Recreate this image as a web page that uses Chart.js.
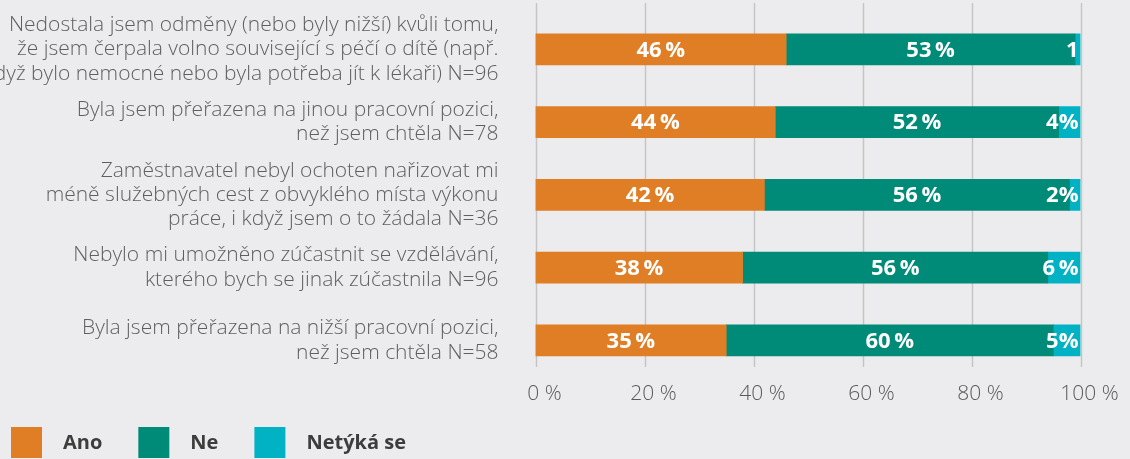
<!DOCTYPE html>
<html lang="cs">
<head>
<meta charset="utf-8">
<title>Znevýhodnění v zaměstnání</title>
<script src="https://cdn.jsdelivr.net/npm/chart.js@4.4.1/dist/chart.umd.min.js"></script>
<style>
  html, body { margin: 0; padding: 0; background: #ececee; }
  #wrap { width: 1130px; height: 459px; }
  canvas { display: block; }
</style>
</head>
<body>
<div id="wrap"><canvas id="chart" width="1130" height="459"></canvas></div>
<script>
// Otázky (každá na více řádků) a podíly odpovědí v %
const categories = [
  ["Nedostala jsem odměny (nebo byly nižší) kvůli tomu,",
   "že jsem čerpala volno související s péčí o dítě (např.",
   "když bylo nemocné nebo byla potřeba jít k lékaři) N=96"],
  ["Byla jsem přeřazena na jinou pracovní pozici,",
   "než jsem chtěla N=78"],
  ["Zaměstnavatel nebyl ochoten nařizovat mi",
   "méně služebných cest z obvyklého místa výkonu",
   "práce, i když jsem o to žádala N=36"],
  ["Nebylo mi umožněno zúčastnit se vzdělávání,",
   "kterého bych se jinak zúčastnila N=96"],
  ["Byla jsem přeřazena na nižší pracovní pozici,",
   "než jsem chtěla N=58"]
];
const seriesNames = ["Ano", "Ne", "Netýká se"];
const ano    = [46, 44, 42, 38, 35];
const ne     = [53, 52, 56, 56, 60];
const netyka = [1, 4, 2, 6, 5];
const xTickValues = [0, 20, 40, 60, 80, 100];

const COLORS = ["#e07e26", "#008a78", "#00b2c4"];
const FONT = "'Open Sans', 'Noto Sans', sans-serif";

// Svislé mřížky přes celou výšku grafu
const gridPlugin = {
  id: 'gridLines',
  beforeDatasetsDraw(chart) {
    const { ctx } = chart;
    const xs = chart.scales.x;
    ctx.save();
    ctx.strokeStyle = '#c5c5c8';
    ctx.lineWidth = 1.5;
    xTickValues.forEach(v => {
      const x = Math.round(xs.getPixelForValue(v)) + 0.5;
      ctx.beginPath();
      ctx.moveTo(x, 3);
      ctx.lineTo(x, 367);
      ctx.stroke();
    });
    ctx.restore();
  }
};

// Hodnoty uvnitř segmentů
const valueLabels = {
  id: 'valueLabels',
  afterDatasetsDraw(chart) {
    const { ctx } = chart;
    ctx.save();
    ctx.font = `bold 22px ${FONT}`;
    ctx.fillStyle = '#ffffff';
    ctx.textAlign = 'center';
    ctx.textBaseline = 'middle';
    chart.data.datasets.forEach((ds, di) => {
      const meta = chart.getDatasetMeta(di);
      meta.data.forEach((bar, i) => {
        const v = ds.data[i];
        const left = Math.min(bar.x, bar.base);
        const right = Math.max(bar.x, bar.base);
        const w = right - left;
        let text;
        if (w >= 32) text = v + '\u2009%';
        else if (w >= 10) text = v + '%';
        else text = String(v);
        const tw = ctx.measureText(text).width;
        let cx = (left + right) / 2;
        if (tw > w) cx = Math.min(cx, right - tw / 2 - 2);
        ctx.fillText(text, cx, bar.y + 1);
      });
    });
    ctx.restore();
  }
};

// Legenda pod grafem
const legendPlugin = {
  id: 'bottomLegend',
  afterDraw(chart) {
    const { ctx } = chart;
    ctx.save();
    ctx.font = `bold 20px ${FONT}`;
    ctx.textBaseline = 'middle';
    ctx.textAlign = 'left';
    let x = 11;
    const top = 427, box = 31;
    chart.data.datasets.forEach(ds => {
      ctx.fillStyle = ds.backgroundColor;
      ctx.fillRect(x, top, box, box);
      const tx = x + box + 21;
      ctx.fillStyle = '#3d3d3d';
      ctx.fillText(ds.label, tx, top + box / 2 + 1);
      x = tx + ctx.measureText(ds.label).width + 36;
    });
    ctx.restore();
  }
};

const seriesData = [ano, ne, netyka];

new Chart(document.getElementById('chart'), {
  type: 'bar',
  data: {
    labels: categories,
    datasets: seriesNames.map((name, k) => ({
      label: name,
      data: seriesData[k],
      backgroundColor: COLORS[k],
      borderWidth: 0,
      barThickness: 31
    }))
  },
  options: {
    indexAxis: 'y',
    responsive: false,
    animation: false,
    devicePixelRatio: 1,
    layout: { padding: { left: 0, right: 49.5, top: 13, bottom: 47 } },
    plugins: {
      legend: { display: false },
      tooltip: { enabled: false }
    },
    scales: {
      x: {
        stacked: true,
        min: 0,
        max: 100,
        afterBuildTicks(scale) {
          scale.ticks = xTickValues.map(v => ({ value: v }));
        },
        afterFit(scale) { scale.paddingLeft = 0; scale.paddingRight = 0; },
        ticks: {
          callback: v => v + ' %',
          color: '#5a5a5c',
          font: { family: FONT, size: 21, weight: 300 },
          padding: 5,
          labelOffset: 9,
          maxRotation: 0
        },
        grid: { display: false, drawTicks: false },
        border: { display: false }
      },
      y: {
        stacked: true,
        afterFit(scale) {
          scale.width = 535.5;
          scale.paddingTop = 0;
          scale.paddingBottom = 0;
        },
        ticks: {
          color: '#5e5f62',
          font: { family: FONT, size: 21, weight: 300, lineHeight: 1.16 },
          padding: 37,
          autoSkip: false
        },
        grid: { display: false, drawTicks: false },
        border: { display: false }
      }
    }
  },
  plugins: [gridPlugin, valueLabels, legendPlugin]
});
</script>
</body>
</html>
